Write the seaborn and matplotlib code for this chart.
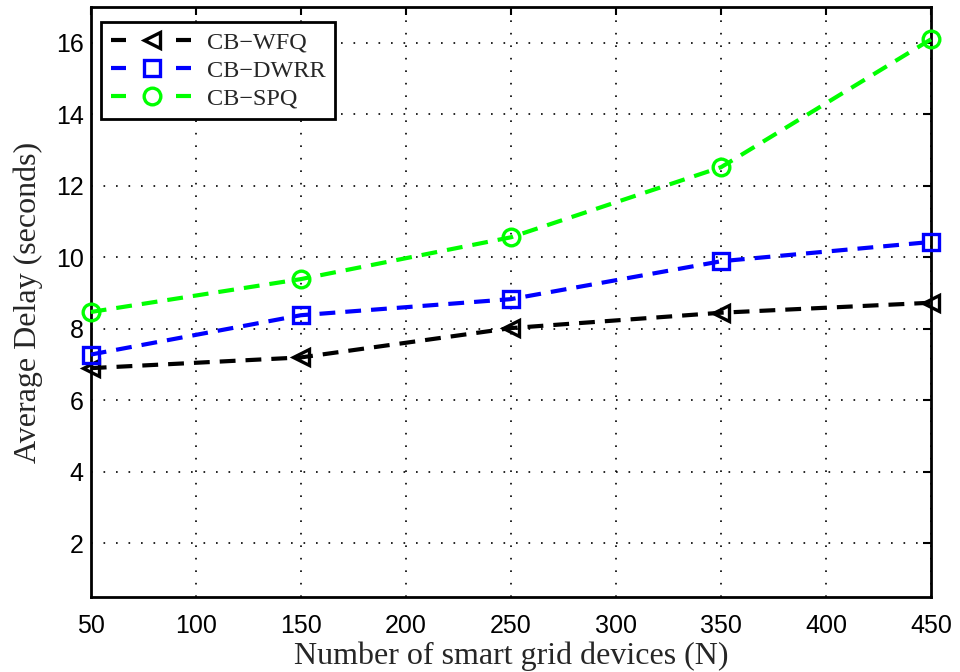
import matplotlib
matplotlib.use("Agg")
import matplotlib.pyplot as plt
import seaborn as sns
import pandas as pd

devices = [50, 150, 250, 350, 450]
cb_wfq = [6.9, 7.2, 8.02, 8.45, 8.73]
cb_dwrr = [7.28, 8.38, 8.83, 9.89, 10.43]
cb_spq = [8.47, 9.39, 10.56, 12.52, 16.1]
series_names = ["CB\u2212WFQ", "CB\u2212DWRR", "CB\u2212SPQ"]
x_ticks = [50, 100, 150, 200, 250, 300, 350, 400, 450]
y_ticks = [2, 4, 6, 8, 10, 12, 14, 16]

sns.set_style("white")
plt.rcParams["font.family"] = ["Liberation Sans", "DejaVu Sans"]

fig = plt.figure(figsize=(9.6, 6.72), dpi=100)
ax = fig.add_axes([0.0945, 0.1116, 0.8755, 0.878])

styles = [("black", "<"), ((0, 0, 1), "s"), ((0, 1, 0), "o")]
for name, vals, (col, mk) in zip(series_names, [cb_wfq, cb_dwrr, cb_spq], styles):
    df = pd.DataFrame({"N": devices, "delay": vals})
    sns.lineplot(data=df, x="N", y="delay", ax=ax, color=col, marker=mk,
                 markersize=12, markerfacecolor="none", markeredgecolor=col,
                 markeredgewidth=2.4, linewidth=3, dashes=False,
                 linestyle=(0, (3.8, 2.4)), label=name, clip_on=False, zorder=3)

ax.set_xlim(50, 450)
ax.set_ylim(0.5, 17)
ax.set_xticks(x_ticks)
ax.set_yticks(y_ticks)
ax.tick_params(direction="in", length=6, width=1.5, labelsize=18, top=True, right=True,
               colors="black")
ax.tick_params(axis="x", pad=12)
ax.tick_params(axis="y", pad=5)
ax.grid(True, linestyle=(0, (1, 6.5)), color="black", linewidth=1.2)
for s in ax.spines.values():
    s.set_linewidth(2)
    s.set_color("black")

ax.set_xlabel("Number of smart grid devices (N)", family="Liberation Serif", fontsize=23, labelpad=3)
ax.set_ylabel("Average Delay (seconds)", family="Liberation Serif", fontsize=23, labelpad=9)

leg = ax.legend(loc="upper left", prop={"family": "Liberation Serif", "size": 17.5},
                frameon=True, fancybox=False, edgecolor="black", framealpha=1,
                handlelength=3.4, bbox_to_anchor=(0.012, 0.975), borderaxespad=0,
                labelspacing=0.25, borderpad=0.4, handletextpad=0.55)
leg.get_frame().set_linewidth(2)
for ln in leg.get_lines():
    ln.set_linestyle((0, (3.6, 12)))

fig.savefig("out.png", dpi=100)
